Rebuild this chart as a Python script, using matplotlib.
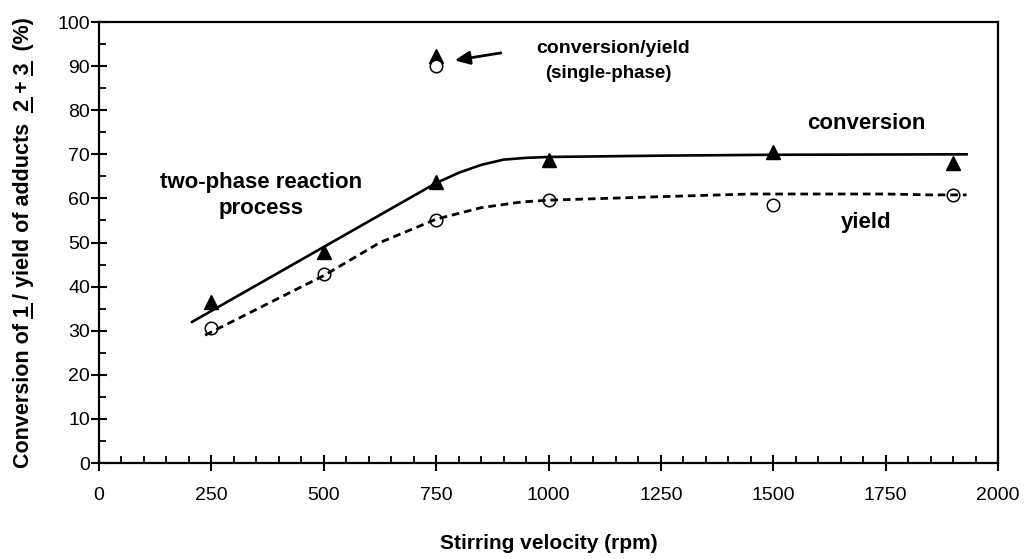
import matplotlib
matplotlib.use("Agg")
import matplotlib.pyplot as plt
from matplotlib.lines import Line2D
from matplotlib.ticker import MultipleLocator

plt.rcParams["font.family"] = ["Liberation Sans", "DejaVu Sans"]
plt.rcParams["lines.scale_dashes"] = False

# measured points (two-phase)
rpm = [250, 500, 750, 1000, 1500, 1900]
conversion = [36.5, 47.8, 63.8, 68.8, 70.5, 68.0]
yield_ = [30.6, 42.9, 55.2, 59.7, 58.6, 60.8]

# single-phase reference at 750 rpm
single_rpm = [750]
single_conv = [92.2]
single_yield = [90.0]

# hand-drawn trend lines
conv_fit_x = [207, 500, 750, 800, 850, 900, 950, 1000, 1250, 1500, 1930]
conv_fit_y = [32.0, 49.0, 63.5, 65.8, 67.6, 68.8, 69.2, 69.4, 69.7, 69.9, 70.0]
yield_fit_x = [236, 500, 625, 750, 850, 940, 1000, 1250, 1450, 1750, 1850, 1930]
yield_fit_y = [29.0, 42.5, 50.0, 55.3, 57.9, 59.2, 59.6, 60.4, 61.0, 61.0, 60.8, 60.8]

ylabel_text = "Conversion of 1 / yield of adducts  2 + 3  (%)"
underlined = [14, 36, 40]  # character positions of the compound numbers

fig = plt.figure(figsize=(10.25, 5.59), dpi=100)
ax = fig.add_axes([0.0966, 0.1717, 0.8771, 0.7889])

ax.plot(conv_fit_x, conv_fit_y, color="black", lw=1.9, zorder=2)
ax.plot(yield_fit_x, yield_fit_y, color="black", lw=2.0, ls=(0, (5.5, 3.5)), zorder=2)
ax.plot(rpm, conversion, "^", color="black", ms=9.5, ls="none", zorder=3)
ax.plot(rpm, yield_, "o", mfc="none", mec="black", mew=1.1, ms=9, ls="none", zorder=1)
ax.plot(single_rpm, single_conv, "^", color="black", ms=9.5, ls="none", zorder=3)
ax.plot(single_rpm, single_yield, "o", mfc="white", mec="black", mew=1.1, ms=9, ls="none", zorder=4)

ax.annotate("", xy=(785, 91.2), xytext=(900, 93.1),
            arrowprops=dict(arrowstyle="-|>,head_length=0.9,head_width=0.4", color="black", lw=2.0))

ax.text(1143, 94.1, "conversion/yield", ha="center", va="center", fontsize=14, fontweight="bold")
ax.text(1133, 88.4, "(single-phase)", ha="center", va="center", fontsize=13.5, fontweight="bold")
ax.text(360, 63.7, "two-phase reaction", ha="center", va="center", fontsize=16, fontweight="bold")
ax.text(360, 57.8, "process", ha="center", va="center", fontsize=16, fontweight="bold")
ax.text(1708, 76.9, "conversion", ha="center", va="center", fontsize=16, fontweight="bold")
ax.text(1706, 54.6, "yield", ha="center", va="center", fontsize=16, fontweight="bold")

ax.set_xlim(0, 2000)
ax.set_ylim(0, 100)
ax.xaxis.set_major_locator(MultipleLocator(250))
ax.xaxis.set_minor_locator(MultipleLocator(50))
ax.yaxis.set_major_locator(MultipleLocator(10))
ax.yaxis.set_minor_locator(MultipleLocator(5))
ax.tick_params(which="major", direction="inout", length=11, width=1.5, labelsize=14)
ax.tick_params(which="minor", direction="in", length=5, width=1.3)
ax.tick_params(axis="x", pad=12)
ax.tick_params(axis="y", pad=1)
for sp in ax.spines.values():
    sp.set_linewidth(1.6)

ax.set_xlabel("Stirring velocity (rpm)", fontsize=15, fontweight="bold", va="top")
ax.xaxis.set_label_coords(0.5, -0.16)
ax.set_ylabel(ylabel_text, fontsize=15.5, fontweight="bold")
ax.yaxis.set_label_coords(-0.072, 0.5)

# underline the compound numbers 1, 2, 3 in the rotated y label
fig.canvas.draw()
renderer = fig.canvas.get_renderer()
label = ax.yaxis.label
prop = label.get_fontproperties()
bb = label.get_window_extent(renderer)
_, _, descent = renderer.get_text_width_height_descent(ylabel_text, prop, ismath=False)
digit_w, _, _ = renderer.get_text_width_height_descent("1", prop, ismath=False)
x_line = bb.x1 - descent + 2.5
W, H = fig.bbox.width, fig.bbox.height
for i in underlined:
    end, _, _ = renderer.get_text_width_height_descent(ylabel_text[:i + 1], prop, ismath=False)
    y1 = bb.y0 + end + 0.5
    y0 = y1 - digit_w - 1.5
    fig.add_artist(Line2D([x_line / W, x_line / W], [y0 / H, y1 / H],
                          transform=fig.transFigure, color="black", lw=1.5))

fig.savefig("out.png", dpi=100)
